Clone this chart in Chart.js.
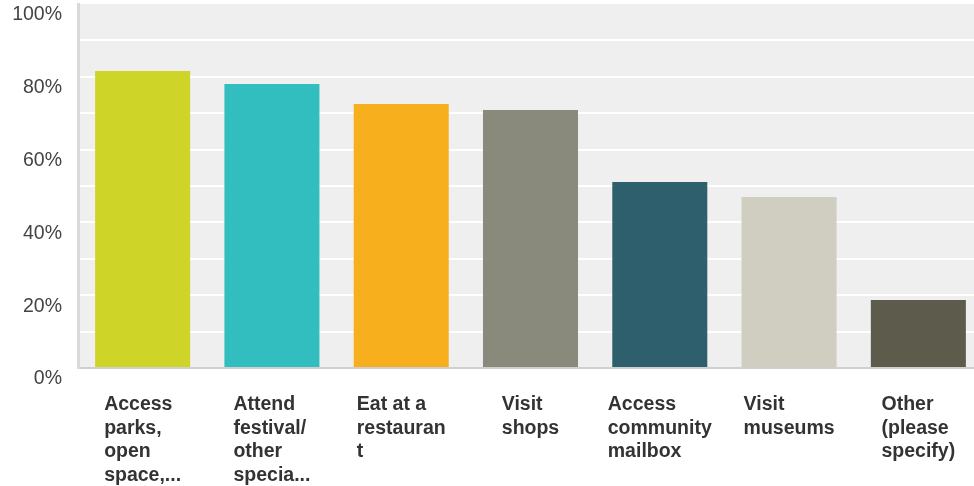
<!DOCTYPE html>
<html>
<head>
<meta charset="utf-8">
<script src="https://cdn.jsdelivr.net/npm/chart.js@4.4.0/dist/chart.umd.min.js"></script>
<style>
  html, body { margin: 0; padding: 0; background: #fff; overflow: hidden; }
  #wrap { width: 983px; height: 486px; }
</style>
</head>
<body>
<div id="wrap"><canvas id="chart" width="983" height="486"></canvas></div>
<script>
const categories = [
  ['Access', 'parks,', 'open', 'space,...'],
  ['Attend', 'festival/', 'other', 'specia...'],
  ['Eat at a', 'restauran', 't'],
  ['Visit', 'shops'],
  ['Access', 'community', 'mailbox'],
  ['Visit', 'museums'],
  ['Other', '(please', 'specify)']
];
const values = [81.6, 78.0, 72.5, 70.9, 51.1, 47.0, 18.7];
const barColors = ['#cfd429', '#32bdbe', '#f7af1e', '#898a7c', '#2e5f6c', '#d0cec0', '#5d5b4c'];

// grey plot background
const plotBg = {
  id: 'plotBg',
  beforeDraw(chart) {
    const { ctx, chartArea: a } = chart;
    ctx.save();
    ctx.fillStyle = '#efefef';
    ctx.fillRect(a.left, a.top, a.right - a.left, a.bottom - a.top);
    ctx.restore();
  }
};

// category labels: block centred under the bar, lines left aligned
const xLabels = {
  id: 'xLabels',
  afterDraw(chart) {
    const { ctx, chartArea } = chart;
    const xs = chart.scales.x;
    ctx.save();
    ctx.font = 'bold 19.5px "Liberation Sans", Arial, sans-serif';
    ctx.fillStyle = '#333';
    ctx.textAlign = 'left';
    ctx.textBaseline = 'alphabetic';
    categories.forEach((lines, i) => {
      const cx = xs.getPixelForValue(i);
      const w = Math.max(...lines.map(l => ctx.measureText(l).width));
      const left = cx - w / 2;
      lines.forEach((l, j) => {
        ctx.fillText(l, left, chartArea.bottom + 42 + j * 23.5);
      });
    });
    ctx.restore();
  }
};

new Chart(document.getElementById('chart').getContext('2d'), {
  type: 'bar',
  data: {
    labels: categories.map(c => c.join(' ')),
    datasets: [{
      data: values,
      backgroundColor: barColors,
      borderWidth: 0,
      categoryPercentage: 1,
      barPercentage: 0.735
    }]
  },
  options: {
    responsive: false,
    animation: false,
    layout: { autoPadding: false, padding: { top: 4, left: 0, right: 0, bottom: 0 } },
    plugins: { legend: { display: false }, tooltip: { enabled: false } },
    scales: {
      x: {
        grid: { display: false },
        border: { display: true, color: '#cfcfcf', width: 2 },
        ticks: { display: false },
        afterFit: s => { s.height = 118; s.paddingLeft = 0; s.paddingRight = 0; }
      },
      y: {
        min: 0,
        max: 100,
        ticks: {
          stepSize: 10,
          padding: 16,
          labelOffset: 11,
          color: '#444',
          font: { family: '"Liberation Sans", Arial, sans-serif', size: 19.5 },
          callback: v => (v % 20 === 0 ? v + '%' : '')
        },
        grid: {
          drawTicks: false,
          lineWidth: 2,
          color: c => (c.tick.value === 0 || c.tick.value === 100 ? 'rgba(0,0,0,0)' : '#ffffff')
        },
        border: { display: true, color: '#d9d9d9', width: 3 },
        afterFit: s => { s.width = 78; s.paddingTop = 0; s.paddingBottom = 0; }
      }
    }
  },
  plugins: [plotBg, xLabels]
});
</script>
</body>
</html>
